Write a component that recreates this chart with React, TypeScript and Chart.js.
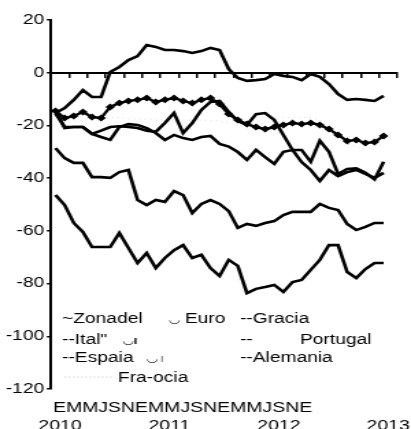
import { useEffect, useRef } from 'react';
import { Chart, registerables } from 'chart.js';

Chart.register(...registerables);

// Monthly values, Jan 2010 .. Jan 2013
const zonaEuro = [-14.5, -17.2, -16.4, -14.9, -16.8, -17.2, -13.0, -11.5, -10.7, -10.3, -9.6, -11.1, -10.3, -9.6, -10.7, -11.5, -10.3, -9.6, -11.9, -15.7, -17.9, -19.5, -20.6, -21.4, -20.6, -19.8, -19.1, -19.5, -19.1, -19.8, -21.4, -23.6, -25.9, -25.5, -26.7, -26.3, -24.0];
const italia = [-15.5, -20.5, -20.6, -20.6, -23.2, -22.0, -20.6, -20.3, -20.6, -21.0, -22.0, -22.4, -19.1, -15.3, -22.9, -19.1, -14.1, -11.1, -10.7, -14.9, -18.3, -19.8, -15.7, -15.3, -17.9, -23.6, -29.3, -33.9, -36.9, -41.1, -36.9, -39.2, -37.7, -36.9, -38.4, -39.9, -38.0];
const espana = [-14.5, -21.0, -20.6, -20.6, -23.2, -24.4, -25.5, -20.6, -19.5, -19.8, -21.0, -22.9, -25.5, -23.6, -24.8, -25.5, -24.4, -24.0, -27.0, -28.0, -30.1, -33.1, -29.3, -32.0, -34.6, -30.0, -29.3, -29.3, -33.8, -25.8, -30.0, -38.4, -36.5, -36.3, -38.0, -40.5, -33.8];
const francia = [-15.0, -17.0, -18.0, -18.0, -18.0, -18.0, -17.0, -17.0, -17.5, -17.6, -17.6, -18.0, -18.0, -18.0, -18.0, -18.0, -18.0, -18.2, -18.2, -19.0, -20.0, -21.0, -20.0, -19.0, -18.0, -17.0, -17.0, -17.0, -17.0, -18.0, -22.0, -25.0, -27.0, -28.0, -29.0, -28.0, -27.0];
const grecia = [-46.4, -50.2, -57.0, -60.4, -66.1, -66.1, -66.1, -60.8, -66.5, -72.2, -68.4, -74.1, -70.3, -67.3, -65.4, -70.3, -69.1, -74.1, -77.1, -71.0, -73.3, -83.6, -82.0, -81.3, -80.5, -83.2, -79.4, -78.6, -74.8, -71.0, -65.4, -65.4, -75.6, -77.9, -74.5, -72.2, -72.2];
const portugal = [-28.6, -32.4, -34.2, -34.2, -39.6, -39.6, -39.9, -37.7, -36.9, -48.3, -50.2, -48.3, -49.0, -44.9, -46.4, -53.2, -49.8, -48.3, -49.8, -52.5, -58.9, -57.4, -58.1, -57.0, -56.3, -54.0, -52.8, -52.8, -52.8, -49.8, -51.3, -52.1, -57.4, -59.7, -58.5, -57.0, -57.0];
const alemania = [-15.3, -13.4, -10.3, -6.6, -9.2, -9.2, 0.3, 2.2, 4.8, 6.3, 10.5, 9.8, 8.6, 8.6, 8.2, 7.5, 8.2, 9.4, 8.6, 1.4, -2.0, -3.1, -2.8, -2.4, -0.5, -1.2, -1.6, -2.8, -0.5, -1.6, -4.3, -8.1, -10.3, -10.0, -10.3, -10.7, -8.8];

// Axis labels
const monthLetters = ['E', 'M', 'M', 'J', 'S', 'N', 'E', 'M', 'M', 'J', 'S', 'N', 'E', 'M', 'M', 'J', 'S', 'N', 'E'];
const yearLabels = ['2010', '2011', '2012', '2013'];
const yearTickMonths = [1, 13, 25, 37];
const lettersTickAt = 14.44;
const yTicks = [20, 0, -20, -40, -60, -80, -100, -120];

// Legend texts (as printed in the original)
const legendTexts = ['~Zonadel', '\u25E1', 'Euro', '--Gracia', '--Ital"', '\u25E1\u0131', '--', 'Portugal', '--Espaia', '\u25E1', '\u0131', '--Alemania', 'Fra-ocia'];

const FONT = "'Liberation Sans', Arial, 'DejaVu Sans', sans-serif";

const toPoints = (arr: number[]) => arr.map((v, i) => ({ x: i + 0.5, y: v }));

const legendPlugin = {
  id: 'scanLegend',
  afterDatasetsDraw(chart: any) {
    const ctx = chart.ctx as CanvasRenderingContext2D;
    const layout: [number, number, number, string, string][] = [
      [45.3, 323, 14, 'normal', '#000'],
      [123.5, 323, 10, 'bold', '#000'],
      [135, 323, 14, 'normal', '#000'],
      [175.2, 323, 14, 'normal', '#000'],
      [45.3, 343.5, 14, 'normal', '#000'],
      [89.8, 343.5, 10, 'bold', '#000'],
      [175.2, 343.5, 14, 'normal', '#000'],
      [219, 343.5, 14, 'normal', '#000'],
      [45.3, 362, 14, 'normal', '#000'],
      [107.3, 362, 10, 'bold', '#000'],
      [116.8, 362, 11, 'normal', '#777'],
      [175.2, 362, 14, 'normal', '#000'],
      [86.1, 382, 14, 'normal', '#000'],
    ];
    ctx.save();
    ctx.textAlign = 'left';
    ctx.textBaseline = 'alphabetic';
    legendTexts.forEach((t, i) => {
      const [x, y, size, weight, color] = layout[i];
      ctx.font = `${weight} ${size}px ${FONT}`;
      ctx.fillStyle = color;
      ctx.fillText(t, x, y);
    });
    ctx.strokeStyle = '#c4c4c4';
    ctx.lineWidth = 1.2;
    ctx.setLineDash([1, 2]);
    ctx.beginPath();
    ctx.moveTo(47.4, 377);
    ctx.lineTo(81.8, 377);
    ctx.stroke();
    ctx.restore();
  },
};

export default function App() {
  const ref = useRef<HTMLCanvasElement>(null);

  useEffect(() => {
    if (!ref.current) return;
    Chart.defaults.font.family = FONT;
    Chart.defaults.color = '#000';
    const lineDs = (label: string, data: number[], extra: any = {}) => ({
      label,
      data: toPoints(data),
      borderColor: '#000',
      backgroundColor: '#000',
      borderWidth: 2.6,
      pointRadius: 0,
      tension: 0,
      fill: false,
      xAxisID: 'x',
      yAxisID: 'y',
      ...extra,
    });
    const chart = new Chart(ref.current, {
      type: 'line',
      data: {
        datasets: [
          lineDs('Francia', francia, { borderColor: '#e2e2e2', borderWidth: 1.2, borderDash: [1, 3], order: 10 }),
          lineDs('Grecia', grecia),
          lineDs('Portugal', portugal),
          lineDs('España', espana),
          lineDs('Italia', italia),
          lineDs('Alemania', alemania),
          lineDs('Zona del Euro', zonaEuro, { pointRadius: 1.8, pointStyle: 'rectRot', borderWidth: 2.4, order: 0 }),
        ],
      },
      options: {
        responsive: false,
        devicePixelRatio: 1,
        animation: false,
        events: [],
        layout: { padding: { left: 0, right: 10, top: 20, bottom: 5 } },
        plugins: { legend: { display: false }, tooltip: { enabled: false } },
        scales: {
          x: {
            type: 'linear',
            position: { y: 0 } as any,
            min: 0,
            max: 38,
            ticks: { display: false, stepSize: 2 },
            grid: { drawOnChartArea: false, drawTicks: true, tickLength: 4, color: '#000', tickColor: '#000', lineWidth: 1.5 },
            border: { display: true, color: '#000', width: 2 },
          },
          xl: {
            type: 'linear',
            position: 'bottom',
            min: 0,
            max: 38,
            afterBuildTicks: (axis: any) => {
              axis.ticks = [...yearTickMonths, lettersTickAt].sort((a, b) => a - b).map((v) => ({ value: v }));
            },
            afterFit: (axis: any) => {
              axis.height = 46;
              axis.paddingLeft = 0;
              axis.paddingRight = 0;
            },
            ticks: {
              autoSkip: false,
              maxRotation: 0,
              minRotation: 0,
              padding: 10,
              font: { size: 14.2, family: FONT, lineHeight: 1.268 },
              color: '#000',
              callback: (v: any) =>
                v === lettersTickAt
                  ? [monthLetters.join(''), '']
                  : ['', yearLabels[yearTickMonths.indexOf(v)] ?? ''],
            },
            grid: { display: false, drawTicks: false },
            border: { display: false },
          },
          y: {
            type: 'linear',
            position: 'left',
            min: -120,
            max: 20,
            afterBuildTicks: (axis: any) => {
              axis.ticks = yTicks.map((v) => ({ value: v }));
            },
            afterFit: (axis: any) => { axis.width = 37.2; },
            ticks: {
              padding: 2,
              font: { size: 14, family: FONT },
              color: '#000',
              callback: (v: any) => String(v),
            },
            grid: { drawOnChartArea: false, drawTicks: true, tickLength: 3, color: '#000', tickColor: '#000', lineWidth: 1.5 },
            border: { display: true, color: '#000', width: 2 },
          },
        },
      },
      plugins: [legendPlugin],
    } as any);
    return () => chart.destroy();
  }, []);

  return (
    <div style={{ width: 411, height: 440, overflow: 'hidden', background: '#fff' }}>
      <style>{`html,body{margin:0;padding:0;overflow:hidden;background:#fff}`}</style>
      <canvas
        ref={ref}
        width={300}
        height={440}
        style={{ display: 'block', width: '411px', height: '440px' }}
      />
    </div>
  );
}
